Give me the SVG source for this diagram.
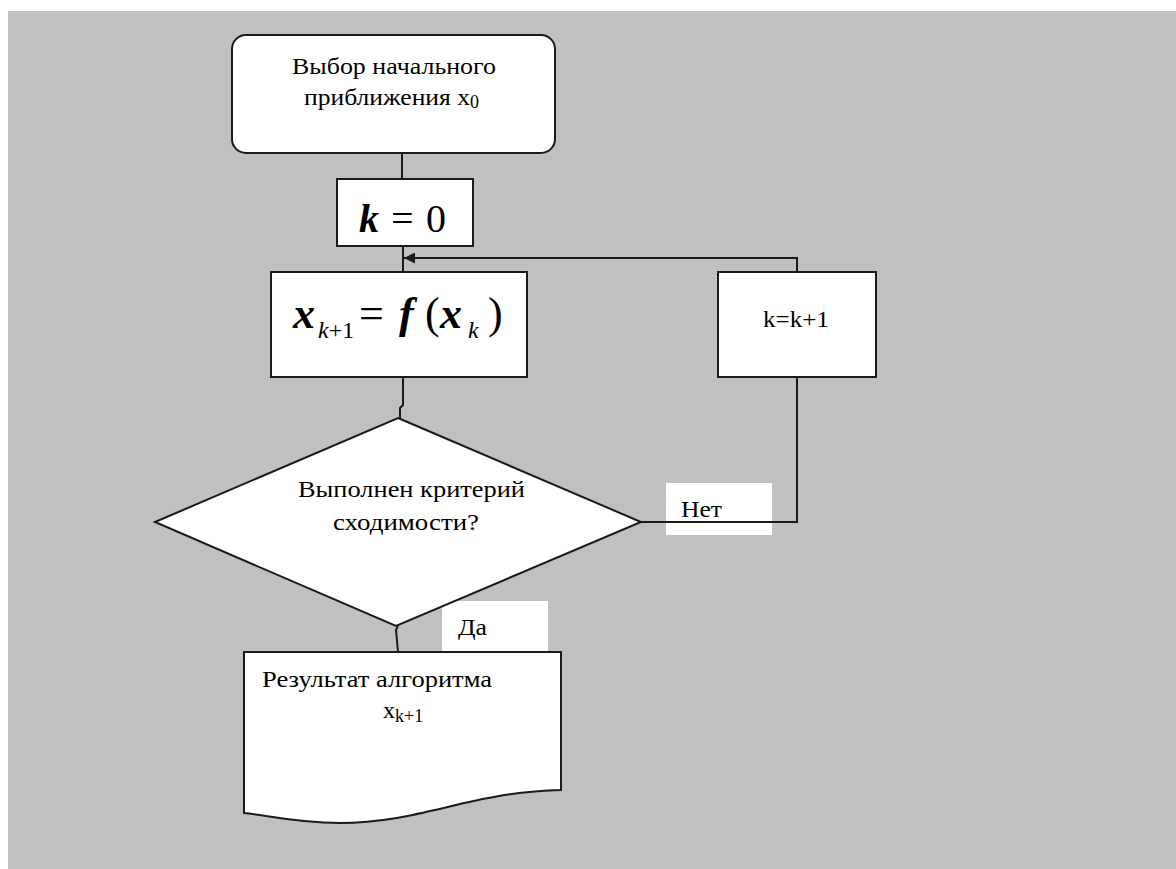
<svg xmlns="http://www.w3.org/2000/svg" width="1176" height="869" viewBox="0 0 1176 869">
<style>
.shape{fill:#fff;stroke:#1a1a1a;stroke-width:2}
.conn{fill:none;stroke:#1a1a1a;stroke-width:2}
.t{font-family:"Liberation Serif","Times New Roman",Tinos,"DejaVu Serif",serif;fill:#000;font-size:24px}
.m{font-family:"Liberation Serif","Times New Roman",Tinos,"DejaVu Serif",serif;fill:#000}
.bi{font-weight:bold;font-style:italic}
.lbl{fill:#fff;stroke:none}
</style>
<defs>
<marker id="arr" viewBox="0 0 10 10" refX="10" refY="5" markerWidth="11" markerHeight="11" markerUnits="userSpaceOnUse" orient="auto">
<path d="M0,0 L10,5 L0,10 Z" fill="#1a1a1a"/>
</marker>
</defs>
<rect x="0" y="0" width="1176" height="869" fill="#fff"/>
<rect x="8" y="11" width="1168" height="858" fill="#c0c0c0"/>
<g id="labels">
<g id="label-no"><rect class="lbl" x="666" y="483" width="106" height="52"/><text class="t" x="681" y="517" textLength="41" lengthAdjust="spacingAndGlyphs">Нет</text></g>
<g id="label-yes"><rect class="lbl" x="442" y="601" width="106" height="52"/><text class="t" x="458" y="635" textLength="29" lengthAdjust="spacingAndGlyphs">Да</text></g>
</g>
<g id="connectors">
<path class="conn" d="M402,153 V179"/>
<path class="conn" d="M403,246 V272"/>
<path class="conn" d="M797,272 V258 H404" marker-end="url(#arr)"/>
<path class="conn" d="M403,377 V405 L400,408 V418"/>
<path class="conn" d="M797,377 V522 H641"/>
<path class="conn" d="M398,626 L396,630 L398,652"/>
</g>
<g id="start">
<rect class="shape" x="232" y="35" width="323" height="118" rx="14"/>
<text class="t" x="292" y="74" textLength="204" lengthAdjust="spacingAndGlyphs">Выбор начального</text>
<text class="t" x="304" y="105"><tspan textLength="166" lengthAdjust="spacingAndGlyphs">приближения x</tspan><tspan font-size="18" dy="3">0</tspan></text>
</g>
<g id="init">
<rect class="shape" x="337" y="179" width="136" height="67"/>
<text class="m bi" x="359" y="232" font-size="40">k</text>
<text class="m" x="391" y="232" font-size="40">=</text>
<text class="m" x="426" y="232" font-size="40">0</text>
</g>
<g id="iter">
<rect class="shape" x="271" y="272" width="256" height="105"/>
<text class="m bi" x="293" y="328" font-size="44">x</text>
<text class="m" x="318" y="338" font-size="24"><tspan font-style="italic">k</tspan>+1</text>
<text class="m" x="359" y="328" font-size="44">=</text>
<text class="m bi" x="399" y="328" font-size="44">f</text>
<text class="m" x="425" y="328" font-size="44">(</text>
<text class="m bi" x="440" y="328" font-size="44">x</text>
<text class="m" x="468" y="338" font-size="24" font-style="italic">k</text>
<text class="m" x="488" y="328" font-size="44">)</text>
</g>
<g id="increment">
<rect class="shape" x="718" y="272" width="158" height="105"/>
<text class="t" x="763" y="327" font-size="25" textLength="66" lengthAdjust="spacingAndGlyphs">k=k+1</text>
</g>
<g id="check">
<polygon class="shape" points="398,418 641,522 396,626 155,522"/>
<text class="t" x="298" y="497" textLength="227" lengthAdjust="spacingAndGlyphs">Выполнен критерий</text>
<text class="t" x="333" y="530" textLength="146" lengthAdjust="spacingAndGlyphs">сходимости?</text>
</g>
<g id="result">
<path class="shape" d="M244,652 H561 V790 C470,792 420,823 340,823 C295,823 265,815 244,813 Z"/>
<text class="t" x="262" y="687" textLength="230" lengthAdjust="spacingAndGlyphs">Результат алгоритма</text>
<text class="t" x="383" y="718">x<tspan font-size="18" dy="4">k+1</tspan></text>
</g>
</svg>
